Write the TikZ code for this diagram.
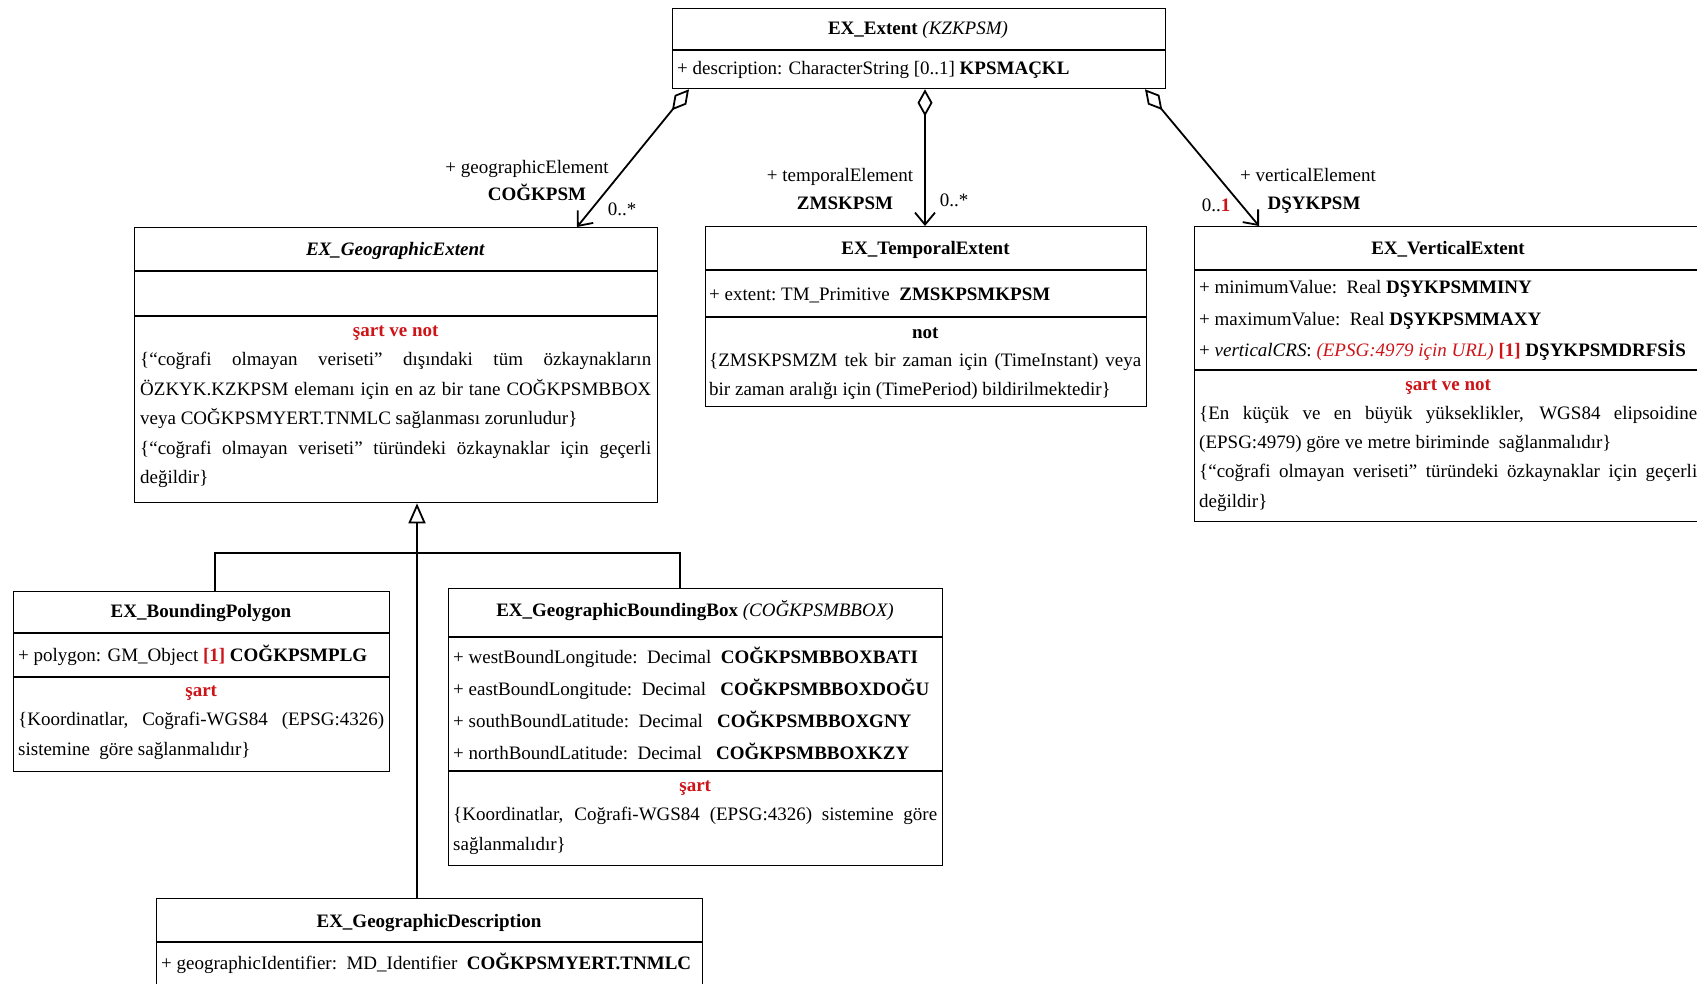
\documentclass[tikz,border=0pt]{standalone}
\usepackage{fontspec}
\setmainfont{Liberation Serif}
\usetikzlibrary{arrows.meta,calc}
\definecolor{umlred}{RGB}{205,20,25}

% one line of a compartment: justified, flush left, centred
\newcommand\jl[1]{\hbox to\hsize{#1}}
\newcommand\lf[1]{\hbox{#1}}
\newcommand\cl[1]{\hbox to\hsize{\hfil#1\hfil}}
% a stack of lines whose baseline is the first line's baseline
\newcommand\block[2]{\vtop{\hsize=#1\relax#2}}
\newcommand\red[1]{\textcolor{umlred}{#1}}

\begin{document}
\begin{tikzpicture}[x=1pt,y=-1pt,
  font=\fontsize{19}{29.5}\selectfont,
  umlbox/.style={draw, line width=1.3pt, inner sep=0pt, anchor=north west},
  divline/.style={line width=1.3pt},
  txt/.style={inner sep=0pt, anchor=base west},
  ttl/.style={inner sep=0pt, anchor=base},
  conn/.style={line width=1.8pt},
  agg/.style={conn, {Diamond[open,length=27pt,width=15pt]}-{Straight Barb[length=12pt,width=20pt]}},
  gen/.style={conn, -{Triangle[open,length=20pt,width=17pt]}}]

\useasboundingbox (0,0) rectangle (1697,984);
\fill[white] (0,0) rectangle (1697,984);
\clip (0,0) rectangle (1697,984);

% ---------- EX_Extent ----------
\node[umlbox, minimum width=493pt, minimum height=80pt] (ext) at (672,8) {};
\draw[divline] (672,50) -- (1165,50);
\node[ttl] (ext-t) at (918,35) {\textbf{EX\_Extent} \textit{(KZKPSM)}};
\node[txt] (ext-a) at (677,75) {+ description: CharacterString [0..1] \textbf{KPSMAÇKL}};

% ---------- EX_GeographicExtent ----------
\node[umlbox, minimum width=523pt, minimum height=275pt] (ge) at (134,227) {};
\draw[divline] (134,271) -- (657,271);
\draw[divline] (134,316) -- (657,316);
\node[ttl] (ge-t) at (395.5,256) {\textbf{\textit{EX\_GeographicExtent}}};
\node[txt] (ge-n) at (140,336) {\block{511pt}{%
  \cl{\red{\textbf{şart ve not}}}
  \jl{\{“coğrafi olmayan veriseti” dışındaki tüm özkaynakların}
  \jl{ÖZKYK.KZKPSM elemanı için en az bir tane COĞKPSMBBOX}
  \lf{veya COĞKPSMYERT.TNMLC sağlanması zorunludur\}}
  \jl{\{“coğrafi olmayan veriseti” türündeki özkaynaklar için geçerli}
  \lf{değildir\}}}};

% ---------- EX_TemporalExtent ----------
\node[umlbox, minimum width=441pt, minimum height=180pt] (te) at (705,226) {};
\draw[divline] (705,270) -- (1146,270);
\draw[divline] (705,317) -- (1146,317);
\node[ttl] (te-t) at (925.5,255) {\textbf{EX\_TemporalExtent}};
\node[txt] (te-a) at (709,301) {+ extent:\ TM\_Primitive\ \ \textbf{ZMSKPSMKPSM}};
\node[txt] (te-n) at (709,338) {\fontsize{19}{28.5}\selectfont\block{432pt}{%
  \cl{\textbf{not}}
  \jl{\{ZMSKPSMZM tek bir zaman için (TimeInstant) veya}
  \lf{bir zaman aralığı için (TimePeriod) bildirilmektedir\}}}};

% ---------- EX_VerticalExtent ----------
\node[umlbox, minimum width=508pt, minimum height=295pt] (ve) at (1194,226) {};
\draw[divline] (1194,270) -- (1702,270);
\draw[divline] (1194,370) -- (1702,370);
\node[ttl] (ve-t) at (1448,255) {\textbf{EX\_VerticalExtent}};
\node[txt] (ve-a) at (1199,294) {\fontsize{19}{31.5}\selectfont\block{498pt}{%
  \lf{+ minimumValue:\ \ Real \textbf{DŞYKPSMMINY}}
  \lf{+ maximumValue:\ \ Real \textbf{DŞYKPSMMAXY}}
  \lf{+ \textit{verticalCRS}: \red{\textit{(EPSG:4979 için URL)}} \red{\textbf{[1]}} \textbf{DŞYKPSMDRFSİS}}}};
\node[txt] (ve-n) at (1199,390) {\fontsize{19}{29.3}\selectfont\block{498pt}{%
  \cl{\red{\textbf{şart ve not}}}
  \jl{\{En küçük ve en büyük yükseklikler, WGS84 elipsoidine}
  \lf{(EPSG:4979) göre ve metre biriminde\ \ sağlanmalıdır\}}
  \jl{\{“coğrafi olmayan veriseti” türündeki özkaynaklar için geçerli}
  \lf{değildir\}}}};

% ---------- EX_BoundingPolygon ----------
\node[umlbox, minimum width=376pt, minimum height=180pt] (bp) at (13,591) {};
\draw[divline] (13,633) -- (389,633);
\draw[divline] (13,677) -- (389,677);
\node[ttl] (bp-t) at (201,617) {\textbf{EX\_BoundingPolygon}};
\node[txt] (bp-a) at (18,661) {+ polygon: GM\_Object \red{\textbf{[1]}} \textbf{COĞKPSMPLG}};
\node[txt] (bp-n) at (18,696) {\block{366pt}{%
  \cl{\red{\textbf{şart}}}
  \jl{\{Koordinatlar,\ \ Coğrafi-WGS84\ \ (EPSG:4326)}
  \lf{sistemine\ \ göre sağlanmalıdır\}}}};

% ---------- EX_GeographicBoundingBox ----------
\node[umlbox, minimum width=494pt, minimum height=277pt] (bb) at (448,588) {};
\draw[divline] (448,637) -- (942,637);
\draw[divline] (448,771) -- (942,771);
\node[ttl] (bb-t) at (695,616) {\textbf{EX\_GeographicBoundingBox} \textit{(COĞKPSMBBOX)}};
\node[txt] (bb-a) at (453,663) {\fontsize{19}{32}\selectfont\block{484pt}{%
  \lf{+ westBoundLongitude:\ \ Decimal\ \ \textbf{COĞKPSMBBOXBATI}}
  \lf{+ eastBoundLongitude:\ \ Decimal\ \ \ \textbf{COĞKPSMBBOXDOĞU}}
  \lf{+ southBoundLatitude:\ \ Decimal\ \ \ \textbf{COĞKPSMBBOXGNY}}
  \lf{+ northBoundLatitude:\ \ Decimal\ \ \ \textbf{COĞKPSMBBOXKZY}}}};
\node[txt] (bb-n) at (453,791) {\block{484pt}{%
  \cl{\red{\textbf{şart}}}
  \jl{\{Koordinatlar, Coğrafi-WGS84 (EPSG:4326) sistemine göre}
  \lf{sağlanmalıdır\}}}};

% ---------- EX_GeographicDescription ----------
\node[umlbox, minimum width=546pt, minimum height=120pt] (gd) at (156,898) {};
\draw[divline] (156,942) -- (702,942);
\node[ttl] (gd-t) at (429,927) {\textbf{EX\_GeographicDescription}};
\node[txt] (gd-a) at (161,969) {+ geographicIdentifier:\ \ MD\_Identifier\ \ \textbf{COĞKPSMYERT.TNMLC}};

% ---------- aggregations ----------
\draw[agg] ($(ext.south west)+(17,0)$) -- ($(ge.north west)+(443,0)$);
\draw[agg] ($(ext.south west)+(253,0)$) -- ($(te.north west)+(220,0)$);
\draw[agg] ($(ext.south west)+(473,0)$) -- ($(ve.north west)+(65,0)$);

\node[ttl] (ge-role) at (527,174) {+ geographicElement};
\node[ttl] (ge-code) at (537,201) {\textbf{COĞKPSM}};
\node[ttl] (ge-mult) at (622,216) {0..*};
\node[ttl] (te-role) at (840,182) {+ temporalElement};
\node[ttl] (te-code) at (845,210) {\textbf{ZMSKPSM}};
\node[ttl] (te-mult) at (954,207) {0..*};
\node[ttl] (ve-role) at (1308,182) {+ verticalElement};
\node[ttl] (ve-code) at (1314,210) {\textbf{DŞYKPSM}};
\node[ttl] (ve-mult) at (1216,212) {0..\red{\textbf{1}}};

% ---------- generalisation ----------
\coordinate (gen-j) at (417,553);
\draw[conn] ($(bp.north west)+(202,0)$) |- (gen-j);
\draw[conn] ($(bb.north west)+(232,0)$) |- (gen-j);
\draw[gen] ($(gd.north west)+(261,0)$) -- ($(ge.south west)+(283,0)$);

\end{tikzpicture}
\end{document}
